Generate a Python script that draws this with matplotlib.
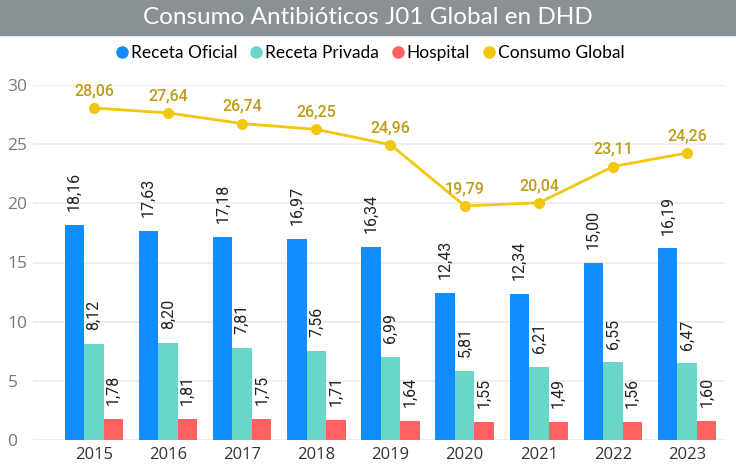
import matplotlib.pyplot as plt
from matplotlib.lines import Line2D
from matplotlib.patches import Rectangle
import numpy as np

years = ['2015', '2016', '2017', '2018', '2019', '2020', '2021', '2022', '2023']
receta_oficial = [18.16, 17.63, 17.18, 16.97, 16.34, 12.43, 12.34, 15.00, 16.19]
receta_privada = [8.12, 8.20, 7.81, 7.56, 6.99, 5.81, 6.21, 6.55, 6.47]
hospital = [1.78, 1.81, 1.75, 1.71, 1.64, 1.55, 1.49, 1.56, 1.60]
consumo_global = [28.06, 27.64, 26.74, 26.25, 24.96, 19.79, 20.04, 23.11, 24.26]

c_blue = '#118DFF'
c_teal = '#6AD6CA'
c_red = '#FD625E'
c_yellow = '#F2C80F'
c_label_gold = '#BF9B1A'

plt.rcParams['font.family'] = ['Open Sans', 'DejaVu Sans']

fig = plt.figure(figsize=(7.36, 4.71), dpi=100)
ax = fig.add_axes([33/736, 1-440/471, (725-33)/736, 355/471])

# title band
fig.patches.append(Rectangle((0, 1-35/471), 1, 35/471, transform=fig.transFigure,
                             color='#8A9195', zorder=0))
fig.text(0.5, 1-18/471, 'Consumo Antibióticos J01 Global en DHD', ha='center', va='center',
         color='white', fontsize=17.5, family='Lato')

x = np.arange(len(years))
w = 0.263
series = [(receta_oficial, c_blue, -w), (receta_privada, c_teal, 0), (hospital, c_red, w)]
for vals, col, off in series:
    ax.bar(x + off, vals, width=w, color=col, zorder=2)
    for xi, v in zip(x, vals):
        ax.annotate(f'{v:.2f}'.replace('.', ','), (xi + off, v), xytext=(0, 10),
                    textcoords='offset points', rotation=90, ha='center', va='bottom',
                    fontsize=11.5, color='#222222', family='Roboto')

ax.plot(x, consumo_global, color=c_yellow, lw=2, marker='o', ms=7, zorder=3, clip_on=False)
for xi, v in zip(x, consumo_global):
    ax.annotate(f'{v:.2f}'.replace('.', ','), (xi, v), xytext=(0, 7), textcoords='offset points',
                ha='center', va='bottom', fontsize=11.5, color=c_label_gold,
                family='Roboto', weight='medium')

ax.set_xlim(-0.82, 8.51)
ax.set_ylim(0, 30)
ax.set_yticks([0, 5, 10, 15, 20, 25, 30])
ax.set_xticks(x)
ax.set_xticklabels(years)
ax.grid(axis='y', color='#EBEBEB', lw=1.2, zorder=0)
ax.set_axisbelow(True)
for s in ax.spines.values():
    s.set_visible(False)
ax.tick_params(axis='both', length=0)
ax.tick_params(axis='y', labelsize=12.5, labelcolor='#777777', pad=-2)
ax.tick_params(axis='x', labelsize=12, labelcolor='#333333', pad=5)
for lbl in ax.get_yticklabels():
    lbl.set_horizontalalignment('left')
    lbl.set_x(-0.045 + 3/736)

handles = [Line2D([], [], marker='o', ls='', color=c, ms=8) for c in (c_blue, c_teal, c_red, c_yellow)]
fig.legend(handles, ['Receta Oficial', 'Receta Privada', 'Hospital', 'Consumo Global'],
           loc='center', bbox_to_anchor=(0.5, 1-53/471), ncol=4, frameon=False,
           prop={'family': 'Lato', 'size': 12.5}, handletextpad=-0.1, columnspacing=0.5,
           handlelength=1.2, borderpad=0)

fig.savefig('out.png', dpi=100)
